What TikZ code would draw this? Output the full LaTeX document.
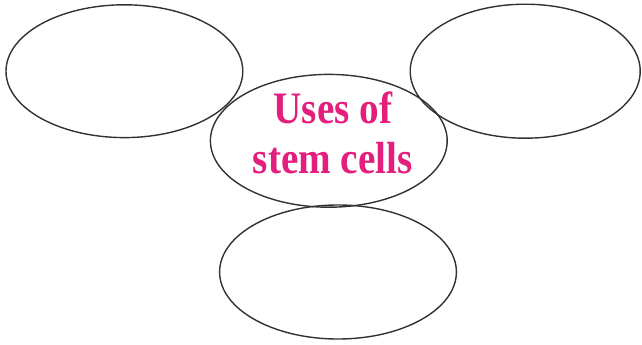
\documentclass[tikz,border=0pt]{standalone}
\usepackage{fontspec}
\setmainfont{Liberation Serif}
\newfontfamily\hubfont[FakeStretch=0.87]{Liberation Serif}
\usetikzlibrary{shapes.geometric}
\definecolor{DG}{RGB}{50,50,50}
\definecolor{MA}{RGB}{228,30,125}

\begin{document}
\begin{tikzpicture}[
  blob/.style={draw=DG, ellipse, line width=1pt, inner sep=0pt,
               minimum width=5.92cm, minimum height=3.32cm},
  hubtxt/.style={align=center, text=MA, inner sep=0pt,
                 font=\hubfont\fontsize{32}{35.5}\selectfont\bfseries}
]
\useasboundingbox (0,0) rectangle (16.05,-8.6);

% Four ellipses
\node[blob] (useleft)  at (3.11,-1.78) {};
\node[blob, minimum width=5.75cm, minimum height=3.35cm] (useright) at (13.13,-1.78) {};
\node[blob] (hub) at (8.22,-3.52) {};
\node[blob, minimum height=3.35cm] (usebelow) at (8.45,-6.80) {};

% Title in the middle one
\node[hubtxt] (hubtitle) at ([xshift=0.1cm,yshift=0.2cm]hub.center) {Uses of\\stem cells};
\end{tikzpicture}
\end{document}
